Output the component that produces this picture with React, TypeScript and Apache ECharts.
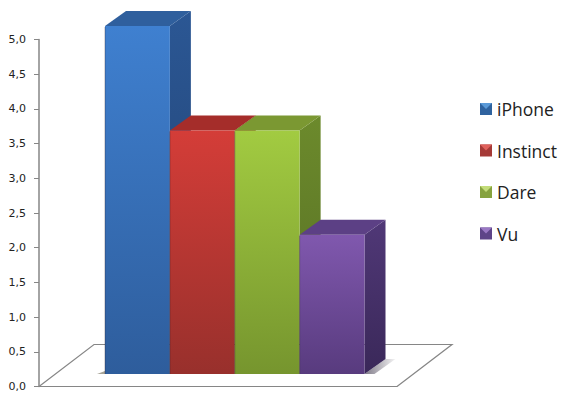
import React, { useEffect, useRef } from "react";
import * as echarts from "echarts";

const categories = ["iPhone", "Instinct", "Dare", "Vu"];
const values = [5.0, 3.5, 3.5, 2.0];
const frontTop = ["#3f80d0", "#d43d38", "#a2cb41", "#8058ae"];
const frontBottom = ["#2e5d9c", "#98302c", "#76952e", "#583b7e"];
const topFace = ["#2f5f9d", "#a52d2a", "#7b9832", "#5c4085"];
const sideTop = ["#2b5794", "#8a2825", "#6c8a2c", "#503877"];
const sideBottom = ["#213f6d", "#6a1f1d", "#556d23", "#3a2859"];
const iconDark = ["#2f639f", "#a53a37", "#86a33f", "#5e4488"];
const iconLight = ["#5a9ad8", "#e0615c", "#c3dc7a", "#9a78c4"];

const DX = 21;
const DY = -15;

const grad = (a: string, b: string) =>
  new echarts.graphic.LinearGradient(0, 0, 0, 1, [
    { offset: 0, color: a },
    { offset: 1, color: b },
  ]);

const renderBar = (i: number) => (_p: any, api: any) => {
  const top = api.coord([api.value(0), api.value(1)]);
  const base = api.coord([api.value(0), 0]);
  const w = api.size([1, 0])[0];
  const xl = top[0] - w / 2;
  const xr = xl + w;
  const yt = top[1];
  const yb = base[1];
  const children: any[] = [];
  if (i === 0) {
    children.push({
      type: "polygon",
      shape: { points: [[xl, yb], [xl, yb - 3], [xl - 8, yb]] },
      style: { fill: "#a8a598" },
    });
  }
  if (i === categories.length - 1) {
    children.push({
      type: "polygon",
      shape: { points: [[xr, yb], [xr + DX, yb + DY], [xr + DX + 10, yb + DY], [xr + 10, yb]] },
      style: {
        fill: new echarts.graphic.LinearGradient(0, 0, 1, 0, [
          { offset: 0, color: "#7f7a88" },
          { offset: 1, color: "#f4f4f4" },
        ]),
      },
    });
  }
  children.push(
    {
      type: "polygon",
      shape: { points: [[xr, yt], [xr + DX, yt + DY], [xr + DX, yb + DY], [xr, yb]] },
      style: { fill: grad(sideTop[i], sideBottom[i]) },
    },
    {
      type: "polygon",
      shape: { points: [[xl, yt], [xl + DX, yt + DY], [xr + DX, yt + DY], [xr, yt]] },
      style: { fill: topFace[i] },
    },
    {
      type: "rect",
      shape: { x: xl, y: yt, width: w, height: yb - yt },
      style: { fill: grad(frontTop[i], frontBottom[i]) },
    },
    {
      type: "line",
      shape: { x1: xl, y1: yt + 1, x2: xl, y2: yb },
      style: { stroke: "rgba(40,30,40,0.35)", lineWidth: 1 },
    }
  );
  return { type: "group", children };
};

const legendIconY = [103, 144.5, 186, 227.5];
const legendIconX = 480;
const legendIconSize = 12;

export default function App() {
  const ref = useRef<HTMLDivElement>(null);
  useEffect(() => {
    document.body.style.margin = "0";
    const chart = echarts.init(ref.current!, null, { renderer: "svg" });
    const axisColor = "#868686";
    chart.setOption({
      animation: false,
      backgroundColor: "#ffffff",
      textStyle: { fontFamily: "'Open Sans', sans-serif" },
      grid: [
        { left: 39, top: 39.5, width: 358, height: 347 },
        { left: 105, top: 26, width: 259.5, height: 348 },
      ],
      xAxis: [
        {
          type: "category",
          gridIndex: 0,
          data: [""],
          axisLine: { show: true, lineStyle: { color: axisColor, width: 1.2 } },
          axisTick: { show: false },
          axisLabel: { show: false },
        },
        {
          type: "category",
          gridIndex: 1,
          data: categories,
          show: false,
        },
      ],
      yAxis: [
        {
          type: "value",
          gridIndex: 0,
          min: 0,
          max: 5,
          interval: 0.5,
          splitLine: { show: false },
          axisLine: { show: true, lineStyle: { color: axisColor, width: 1.5 } },
          axisTick: { show: true, length: 5, lineStyle: { color: axisColor } },
          axisLabel: {
            margin: 13,
            fontSize: 11,
            color: "#222222",
            fontFamily: "'DejaVu Sans', sans-serif",
            formatter: (v: number) => v.toFixed(1).replace(".", ","),
          },
        },
        { type: "value", gridIndex: 1, min: 0, max: 5, show: false },
      ],
      legend: {
        orient: "vertical",
        left: legendIconX,
        top: 100,
        padding: 0,
        itemWidth: legendIconSize,
        itemHeight: legendIconSize,
        itemGap: 23.5,
        selectedMode: false,
        icon: "rect",
        textStyle: { fontSize: 17.5, color: "#222222" },
        data: categories,
      },
      graphic: [
        {
          type: "polyline",
          z: 1,
          shape: { points: [[39, 386.5], [94, 344.5], [452, 344.5], [397, 386.5]] },
          style: { stroke: axisColor, lineWidth: 1.2, fill: "none" },
        },
        ...categories.map((_, i) => ({
          type: "polygon",
          z: 20,
          shape: {
            points: [
              [legendIconX, legendIconY[i]],
              [legendIconX + legendIconSize, legendIconY[i]],
              [legendIconX + legendIconSize / 2, legendIconY[i] + legendIconSize / 2],
            ],
          },
          style: { fill: iconLight[i] },
        })),
      ],
      series: categories.map((name, i) => ({
        type: "custom",
        name,
        xAxisIndex: 1,
        yAxisIndex: 1,
        z: 5 + i,
        itemStyle: { color: iconDark[i] },
        data: [[i, values[i]]],
        encode: { x: 0, y: 1 },
        renderItem: renderBar(i),
      })),
    });
    return () => chart.dispose();
  }, []);
  return <div ref={ref} style={{ position: "absolute", left: 0, top: 0, width: 566, height: 400 }} />;
}
